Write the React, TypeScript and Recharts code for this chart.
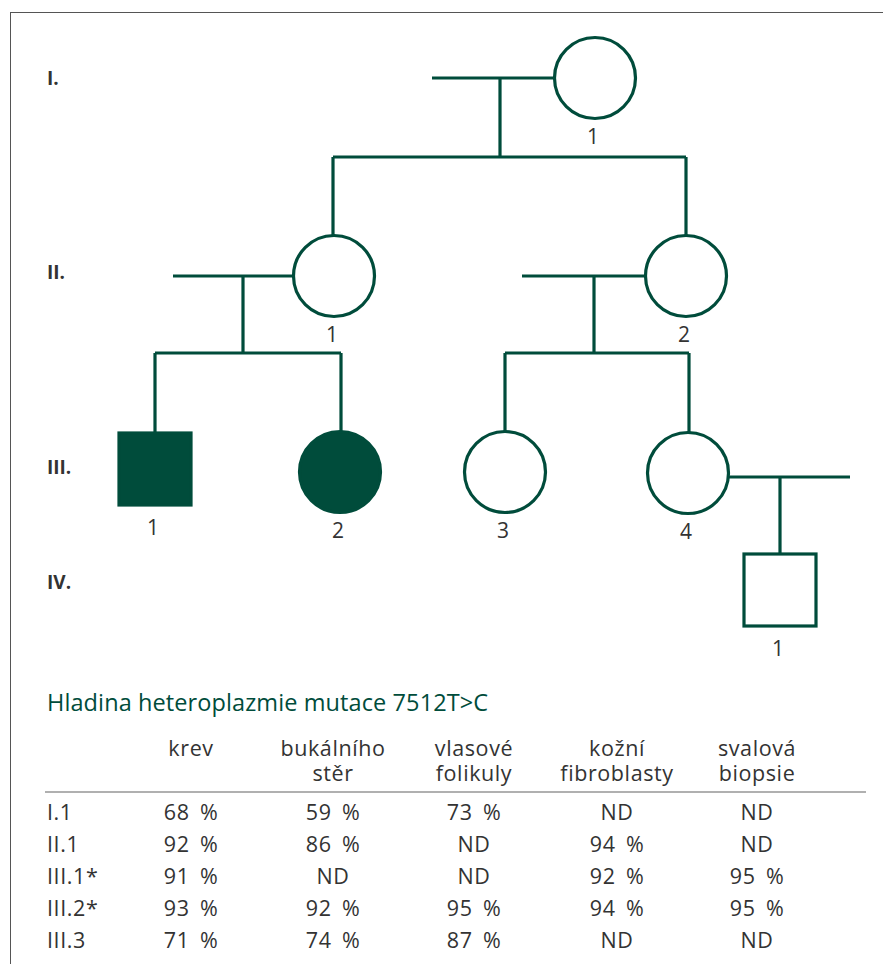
import React from 'react';
import { ScatterChart, Scatter, XAxis, YAxis, ReferenceLine } from 'recharts';

const GREEN = '#004c3b';
const INK = '#333333';
const FONT = '"Open Sans", "Noto Sans", sans-serif';

// generation labels on the left
const generations = [
  { x: 47, y: 78, label: 'I.' },
  { x: 47, y: 272, label: 'II.' },
  { x: 47, y: 467, label: 'III.' },
  { x: 47, y: 582, label: 'IV.' },
];

// individuals in the pedigree
const individuals = [
  { id: 'I.1', x: 595, y: 78, sex: 'F', affected: false, num: '1' },
  { id: 'II.1', x: 334, y: 276, sex: 'F', affected: false, num: '1' },
  { id: 'II.2', x: 686, y: 276, sex: 'F', affected: false, num: '2' },
  { id: 'III.1', x: 155, y: 469, sex: 'M', affected: true, num: '1' },
  { id: 'III.2', x: 340, y: 472, sex: 'F', affected: true, num: '2' },
  { id: 'III.3', x: 505, y: 472, sex: 'F', affected: false, num: '3' },
  { id: 'III.4', x: 688, y: 473, sex: 'F', affected: false, num: '4' },
  { id: 'IV.1', x: 780, y: 590, sex: 'M', affected: false, num: '1' },
];

// connecting lines: [x1, y1, x2, y2]
const links: [number, number, number, number][] = [
  [432, 78, 554, 78],
  [500, 78, 500, 157],
  [333, 157, 686, 157],
  [333, 157, 333, 235],
  [686, 157, 686, 235],
  [173, 276, 293, 276],
  [243, 276, 243, 353],
  [155, 353, 341, 353],
  [155, 353, 155, 432],
  [341, 353, 341, 431],
  [522, 276, 645, 276],
  [594, 276, 594, 353],
  [505, 353, 689, 353],
  [505, 353, 505, 431],
  [689, 353, 689, 432],
  [729, 477, 850, 477],
  [780, 477, 780, 553],
];

// table
const tableTitle = 'Hladina heteroplazmie mutace 7512T>C';
const columns = [
  ['krev', ''],
  ['bukálního', 'stěr'],
  ['vlasové', 'folikuly'],
  ['kožní', 'fibroblasty'],
  ['svalová', 'biopsie'],
];
const rowLabels = ['I.1', 'II.1', 'III.1*', 'III.2*', 'III.3'];
const krev = ['68 %', '92 %', '91 %', '93 %', '71 %'];
const bukalni = ['59 %', '86 %', 'ND', '92 %', '74 %'];
const vlasove = ['73 %', 'ND', 'ND', '95 %', '87 %'];
const kozni = ['ND', '94 %', '92 %', '94 %', 'ND'];
const svalova = ['ND', 'ND', '95 %', '95 %', 'ND'];
const tableValues = [krev, bukalni, vlasove, kozni, svalova];

const COL_CENTERS = [191, 333, 474, 617, 757];

const PersonShape = (props: any) => {
  const { cx, cy, payload } = props;
  const fill = payload.affected ? GREEN : '#ffffff';
  return (
    <g>
      {payload.sex === 'M' ? (
        <rect x={cx - 36} y={cy - 36} width={72} height={72} fill={fill} stroke={GREEN} strokeWidth={3.2} />
      ) : (
        <circle cx={cx} cy={cy} r={40.5} fill={fill} stroke={GREEN} strokeWidth={3.2} />
      )}
      <text x={cx - 2} y={cy + 58} textAnchor="middle" dominantBaseline="central" fill={INK} fontSize={21} fontFamily={FONT}>
        {payload.num}
      </text>
    </g>
  );
};

const GenShape = (props: any) => {
  const { cx, cy, payload } = props;
  return (
    <text x={cx} y={cy} dominantBaseline="central" fill={INK} fontSize={19} fontWeight="bold" fontFamily={FONT}>
      {payload.label}
    </text>
  );
};

const cell = (left: number, top: number, text: React.ReactNode, center = true, lh = 24) => (
  <div
    key={`${left}-${top}`}
    style={{
      position: 'absolute',
      left: center ? left - 90 : left,
      width: center ? 180 : undefined,
      top,
      textAlign: center ? 'center' : 'left',
      lineHeight: `${lh}px`,
      whiteSpace: 'pre',
    }}
  >
    {text}
  </div>
);

export default function App() {
  return (
    <div style={{ position: 'absolute', left: 0, top: 0, width: 883, height: 964, background: '#fff', overflow: 'hidden', fontFamily: FONT }}>
      <div style={{ position: 'absolute', left: 10, top: 12, right: -2, bottom: -2, borderTop: '1px solid #555', borderLeft: '1px solid #555' }} />
      <div style={{ position: 'absolute', left: 0, top: 0 }}>
        <ScatterChart width={883} height={680} margin={{ top: 0, right: 0, bottom: 0, left: 0 }}>
          <XAxis type="number" dataKey="x" domain={[0, 883]} hide />
          <YAxis type="number" dataKey="y" domain={[0, 680]} reversed hide />
          {links.map(([x1, y1, x2, y2], i) => (
            <ReferenceLine
              key={i}
              segment={[{ x: x1, y: y1 }, { x: x2, y: y2 }]}
              stroke={GREEN}
              strokeWidth={3.2}
              ifOverflow="visible"
            />
          ))}
          <Scatter data={individuals} shape={PersonShape} isAnimationActive={false} />
          <Scatter data={generations} shape={GenShape} isAnimationActive={false} />
        </ScatterChart>
      </div>
      <div style={{ position: 'absolute', left: 0, top: 0, width: 883, height: 964, color: INK, fontSize: 21.5, letterSpacing: 0.6 }}>
        <div style={{ position: 'absolute', left: 47, top: 686, fontSize: 23.5, letterSpacing: 0.1, color: GREEN, whiteSpace: 'nowrap' }}>{tableTitle}</div>
        {columns.map((c, i) => cell(COL_CENTERS[i], 735, c[1] ? `${c[0]}\n${c[1]}` : c[0], true, 25))}
        <div style={{ position: 'absolute', left: 45, top: 791, width: 821, height: 2, background: '#b0b0b0' }} />
        {rowLabels.map((r, j) => cell(47, 800 + j * 32, r, false))}
        {tableValues.map((col, i) => col.map((v, j) => cell(COL_CENTERS[i], 800 + j * 32, v.replace(' %', ' \u2009%'))))}
      </div>
    </div>
  );
}
